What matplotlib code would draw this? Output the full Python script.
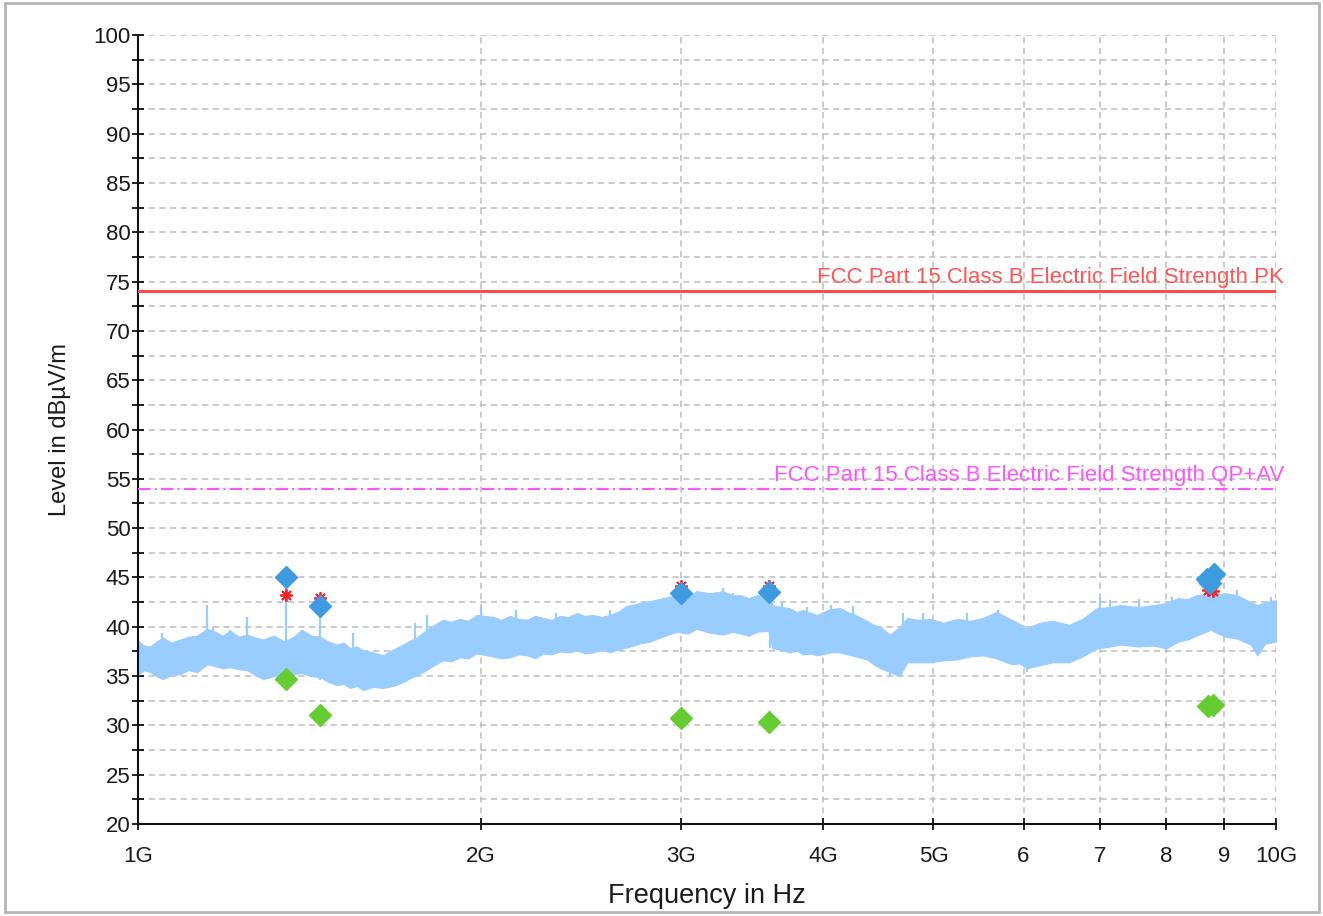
import numpy as np
import matplotlib
matplotlib.use("Agg")
import matplotlib.pyplot as plt
from matplotlib.patches import Rectangle
from matplotlib.ticker import FixedLocator, MultipleLocator, NullFormatter

plt.rcParams['font.family'] = ['Liberation Sans', 'DejaVu Sans']

# spectrum envelope (GHz, dBuV/m upper / lower edge of the trace)
freq_ghz = [1.000, 1.012, 1.025, 1.038, 1.052, 1.070, 1.089, 1.108, 1.127, 1.150,
            1.169, 1.187, 1.205, 1.226, 1.247, 1.268, 1.288, 1.316, 1.346, 1.370,
            1.393, 1.420, 1.445, 1.470, 1.496, 1.516, 1.536, 1.557, 1.577, 1.610,
            1.642, 1.676, 1.710, 1.735, 1.758, 1.780, 1.815, 1.853, 1.885, 1.918,
            1.950, 1.985, 2.050, 2.085, 2.123, 2.160, 2.197, 2.233, 2.270, 2.310,
            2.348, 2.390, 2.431, 2.470, 2.510, 2.555, 2.597, 2.640, 2.689, 2.760,
            2.817, 2.890, 2.974, 3.040, 3.096, 3.180, 3.267, 3.330, 3.385, 3.440,
            3.500, 3.580, 3.610, 3.670, 3.737, 3.790, 3.840, 3.900, 3.950, 4.060,
            4.140, 4.200, 4.270, 4.370, 4.430, 4.490, 4.580, 4.670, 4.740, 4.850,
            4.970, 5.100, 5.250, 5.380, 5.530, 5.680, 5.860, 5.950, 6.040, 6.200,
            6.360, 6.580, 6.760, 6.960, 7.150, 7.300, 7.560, 7.810, 8.010, 8.200,
            8.360, 8.510, 8.640, 8.760, 8.900, 9.030, 9.240, 9.500, 9.630, 9.780,
            10.00]
trace_hi = [38.6, 38.1, 38.0, 38.5, 38.9, 38.4, 38.7, 39.0, 39.1, 39.8,
            39.5, 39.1, 39.6, 39.0, 39.2, 38.9, 38.7, 39.1, 38.5, 39.0,
            39.7, 39.1, 39.0, 38.5, 38.2, 38.4, 37.8, 38.0, 37.6, 37.4,
            37.1, 37.7, 38.2, 38.6, 38.9, 39.4, 40.1, 40.7, 40.5, 40.8,
            40.6, 41.2, 41.0, 40.7, 41.1, 40.8, 40.7, 41.1, 40.9, 40.7,
            41.1, 41.0, 41.4, 41.1, 41.2, 41.0, 41.2, 41.5, 42.1, 42.4,
            42.6, 42.9, 43.2, 43.0, 43.6, 43.4, 43.6, 43.2, 43.2, 42.9,
            43.2, 43.5, 42.2, 42.0, 41.9, 41.5, 41.7, 41.4, 41.2, 41.8,
            41.9, 41.5, 41.2, 40.6, 40.2, 40.0, 39.2, 40.0, 40.9, 40.7,
            40.8, 40.4, 40.8, 40.6, 40.9, 41.5, 40.7, 40.3, 39.9, 40.4,
            40.6, 40.2, 40.8, 41.9, 42.0, 42.2, 42.0, 42.2, 42.4, 42.9,
            42.8, 43.2, 43.3, 43.6, 43.3, 43.4, 43.2, 42.5, 42.2, 42.5,
            42.7]
trace_lo = [35.1, 35.6, 35.4, 35.0, 34.7, 35.1, 35.2, 35.6, 35.4, 36.2,
            36.0, 35.8, 35.9, 35.7, 35.6, 35.1, 34.7, 35.0, 34.8, 35.2,
            35.3, 35.0, 34.9, 34.4, 34.1, 34.2, 33.8, 34.0, 33.6, 33.9,
            33.8, 34.0, 34.4, 34.8, 35.1, 35.4, 36.0, 36.6, 36.5, 36.9,
            36.8, 37.3, 37.0, 36.8, 36.9, 37.2, 37.1, 36.8, 37.3, 37.2,
            37.5, 37.4, 37.6, 37.3, 37.4, 37.7, 37.4, 37.7, 37.9, 38.3,
            38.5, 39.0, 39.5, 39.3, 39.8, 39.4, 39.2, 39.5, 39.3, 39.1,
            39.5, 39.6, 37.8, 37.7, 37.4, 37.6, 37.2, 37.3, 37.1, 37.4,
            37.4, 37.2, 37.0, 36.7, 36.2, 35.8, 35.4, 35.0, 36.4, 36.4,
            36.4, 36.6, 36.7, 37.0, 37.1, 36.8, 36.2, 36.3, 35.8, 36.1,
            36.4, 36.4, 37.0, 37.8, 38.0, 38.2, 38.0, 38.1, 37.8, 38.5,
            38.7, 39.1, 39.4, 39.7, 39.3, 39.0, 38.8, 38.2, 37.1, 38.3,
            38.5]

# single spikes and dips on the trace (GHz, from, to)
spike_ghz = [1.050, 1.150, 1.164, 1.205, 1.247, 1.306, 1.349, 1.393, 1.416, 1.445,
             1.545, 1.750, 1.795, 2.000, 2.150, 2.330, 2.600, 2.860, 3.096, 3.267,
             3.330, 3.680, 3.870, 4.060, 4.250, 4.700, 4.900, 5.350, 5.700, 7.000,
             7.150, 7.580, 8.100, 9.240, 9.900,
             1.445, 2.650, 3.590, 4.580, 6.040, 9.630]
spike_from = [37.5, 38.0, 38.0, 38.0, 38.0, 37.0, 37.0, 37.5, 37.5, 36.5,
              36.0, 37.0, 38.5, 39.0, 39.5, 39.5, 39.5, 40.5, 41.5, 41.0,
              41.0, 40.0, 39.5, 39.5, 39.5, 38.5, 38.5, 38.5, 39.0, 40.0,
              40.0, 40.0, 40.0, 41.0, 40.5,
              36.0, 39.0, 39.5, 36.5, 37.0, 39.0]
spike_to = [39.4, 42.2, 40.0, 39.7, 41.0, 39.0, 45.0, 39.7, 39.2, 42.1,
            39.4, 40.4, 41.2, 42.0, 41.7, 41.4, 41.7, 42.7, 43.6, 43.9,
            43.4, 42.5, 42.0, 42.2, 42.1, 41.4, 41.4, 41.4, 41.7, 43.0,
            42.7, 42.8, 43.0, 43.7, 43.0,
            34.6, 37.5, 37.8, 34.9, 35.4, 37.2]

# final measurements
peak_ghz = [1.349, 1.445, 3.000, 3.585, 8.700, 8.750, 8.820]
peak_lvl = [45.0, 42.1, 43.4, 43.5, 44.8, 44.4, 45.3]
qp_ghz = [1.349, 1.445, 3.000, 3.585, 8.720, 8.800]
qp_lvl = [43.2, 42.9, 44.1, 44.1, 43.7, 43.6]
avg_ghz = [1.349, 1.445, 3.000, 3.585, 8.710, 8.810]
avg_lvl = [34.7, 31.05, 30.75, 30.35, 32.0, 32.1]

limit_pk = 74
limit_av = 54

xtick_ghz = [1, 2, 3, 4, 5, 6, 7, 8, 9, 10]
xtick_lbl = ['1G', '2G', '3G', '4G', '5G', '6', '7', '8', '9', '10G']

fig = plt.figure(figsize=(13.23, 9.16), dpi=100)
ax = fig.add_axes([0.1043, 0.1004, 0.8602, 0.8614])

f = np.array(freq_ghz) * 1e9
ax.fill_between(f, trace_lo, trace_hi, color='#99CCFF', lw=0.8, edgecolor='#99CCFF', zorder=2)
ax.vlines(np.array(spike_ghz) * 1e9, spike_from, spike_to, color='#99CCFF', lw=1.6, zorder=2)

ax.axhline(limit_pk, color='#FF4A4A', lw=2.2, zorder=3)
ax.axhline(limit_av, color='#FF55FF', lw=1.5, ls=(0, (6, 2, 1, 2)), zorder=3)
ax.text(1.007, limit_pk + 0.3, 'FCC Part 15 Class B Electric Field Strength PK',
        transform=ax.get_yaxis_transform(), ha='right', va='bottom',
        fontsize=16, color='#FF5555', zorder=4)
ax.text(1.007, limit_av + 0.3, 'FCC Part 15 Class B Electric Field Strength QP+AV',
        transform=ax.get_yaxis_transform(), ha='right', va='bottom',
        fontsize=16, color='#FF55FF', zorder=4)

ax.plot(np.array(avg_ghz) * 1e9, avg_lvl, ls='none', marker='D', ms=11,
        color='#66CC33', zorder=5)
ax.plot(np.array(qp_ghz) * 1e9, qp_lvl, ls='none', marker=(8, 2, 0), ms=9,
        mew=1.3, color='#FF2020', zorder=5)
ax.plot(np.array(peak_ghz) * 1e9, peak_lvl, ls='none', marker='D', ms=11,
        color='#3E9BDF', zorder=6)

ax.set_xscale('log')
ax.set_xlim(1e9, 1e10)
ax.set_ylim(20, 100)
ax.xaxis.set_major_locator(FixedLocator(np.array(xtick_ghz) * 1e9))
ax.xaxis.set_minor_locator(FixedLocator([]))
ax.xaxis.set_minor_formatter(NullFormatter())
ax.set_xticklabels(xtick_lbl)
ax.yaxis.set_major_locator(MultipleLocator(5))
ax.yaxis.set_minor_locator(MultipleLocator(2.5))

ax.grid(True, which='both', color='#BDBDBD', ls=(0, (4, 3)), lw=1.1, zorder=1)
ax.set_axisbelow(True)
for s in ['top', 'right']:
    ax.spines[s].set_visible(False)
for s in ['left', 'bottom']:
    ax.spines[s].set_linewidth(1.5)
    ax.spines[s].set_color('#111111')
ax.tick_params(which='both', direction='inout', length=9, width=1.3,
               color='#111111', labelsize=16, labelcolor='#1a1a1a')
ax.tick_params(axis='x', pad=11)
ax.tick_params(axis='y', pad=1)

ax.set_xlabel('Frequency in Hz', fontsize=19.5, color='#1a1a1a', labelpad=12)
ax.set_ylabel('Level in dBµV/m', fontsize=17, color='#1a1a1a', labelpad=16)

fig.patches.append(Rectangle((5 / 1323, 4 / 916), 1314 / 1323, 909 / 916,
                             transform=fig.transFigure, fill=False,
                             edgecolor='#B5B5B5', lw=2))

fig.savefig('out.png', dpi=100)
